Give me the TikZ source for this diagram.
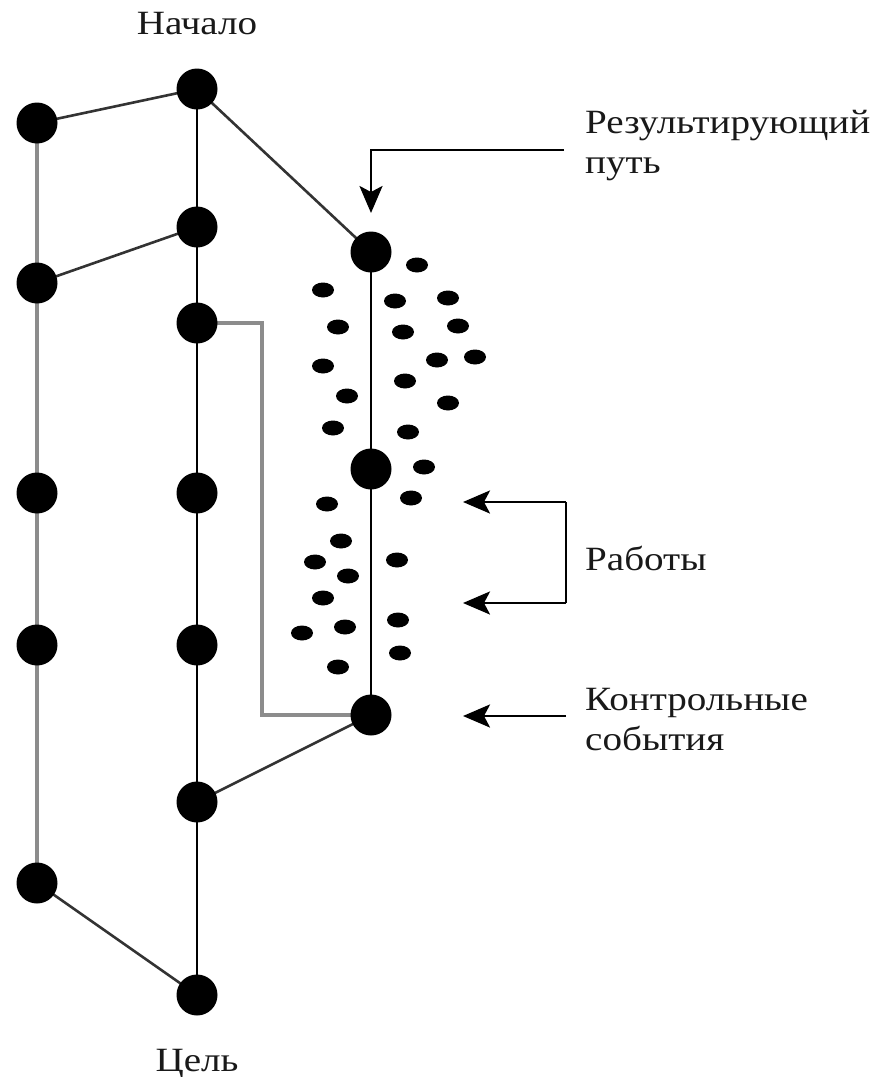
\documentclass[tikz,border=0pt]{standalone}
\usepackage{fontspec}
\setmainfont{Liberation Serif}[FakeStretch=1.15]
\usetikzlibrary{arrows.meta,shapes.geometric,backgrounds}

\begin{document}
\begin{tikzpicture}[x=1pt,y=-1pt,
  event/.style={circle,fill=black,minimum size=41pt,inner sep=0pt},
  job/.style={ellipse,fill=black,minimum width=22pt,minimum height=15pt,inner sep=0pt},
  mainline/.style={line width=2.6pt,black},
  sideline/.style={line width=3.4pt,black!45},
  link/.style={line width=2.6pt,black!80},
  pointer/.style={line width=2.8pt,black,-{Stealth[length=27pt,width=23pt,inset=6pt]}},
  plain/.style={line width=2.8pt,black},
  label/.style={inner sep=0pt,text=black!90,font=\fontsize{34}{40}\selectfont,align=left}
]
\useasboundingbox (0,0) rectangle (880,1077);

% left chain of events
\node[event] (a1) at (37,123) {};
\node[event] (a2) at (37,283) {};
\node[event] (a3) at (37,493) {};
\node[event] (a4) at (37,645) {};
\node[event] (a5) at (37,883) {};

% middle chain of events
\node[event] (b1) at (197,89) {};
\node[event] (b2) at (197,227) {};
\node[event] (b3) at (197,323) {};
\node[event] (b4) at (197,493) {};
\node[event] (b5) at (197,645) {};
\node[event] (b6) at (197,802) {};
\node[event] (b7) at (197,995) {};

% resulting path with its milestones
\node[event] (c1) at (371,252) {};
\node[event] (c2) at (371,469) {};
\node[event] (c3) at (371,715) {};

% connections, kept behind the events
\coordinate (bend) at (262,323);
\begin{scope}[on background layer]
  \draw[sideline] (a1.center) -- (a5.center);
  \draw[mainline] (b1.center) -- (b7.center);
  \draw[mainline] (c1.center) -- (c3.center);
  \draw[sideline] (b3.center) -- (bend) |- (c3.center);
  \draw[link] (a1.center) -- (b1.center);
  \draw[link] (b1.center) -- (c1.center);
  \draw[link] (a2.center) -- (b2.center);
  \draw[link] (b6.center) -- (c3.center);
  \draw[link] (a5.center) -- (b7.center);
\end{scope}

% activities around the resulting path
\foreach \i/\x/\y in {1/417/265,2/323/290,3/395/301,4/448/298,5/338/327,
  6/403/332,7/458/326,8/323/366,9/437/360,10/475/357,11/405/381,12/347/396,
  13/448/403,14/333/428,15/408/432,16/424/467,17/411/498,18/327/504,
  19/341/541,20/315/562,21/397/560,22/348/576,23/323/598,24/302/633,
  25/345/627,26/398/620,27/400/653,28/338/667}
  \node[job] (w\i) at (\x,\y) {};

% labels (multi-line labels are anchored at the baseline of their last line)
\node[label,anchor=base] (start) at (197,34) {Начало};
\node[label,anchor=base] (goal) at (197,1071) {Цель};
\node[label,anchor=base west] (respath) at (585,173) {Результирующий\\путь};
\node[label,anchor=base west] (jobs) at (585,570) {Работы};
\node[label,anchor=base west] (miles) at (585,750) {Контрольные\\события};

% pointers
\coordinate (rtail) at (564,150);
\coordinate (rtip) at (371,213);
\coordinate (jtop) at (566,502);
\coordinate (jbot) at (566,603);
\coordinate (jtip1) at (463,502);
\coordinate (jtip2) at (463,603);
\coordinate (mtail) at (566,716);
\coordinate (mtip) at (463,716);
\draw[pointer] (rtail) -| (rtip);
\draw[plain] (jtop) -- (jbot);
\draw[pointer] (jtop) -- (jtip1);
\draw[pointer] (jbot) -- (jtip2);
\draw[pointer] (mtail) -- (mtip);
\end{tikzpicture}
\end{document}
